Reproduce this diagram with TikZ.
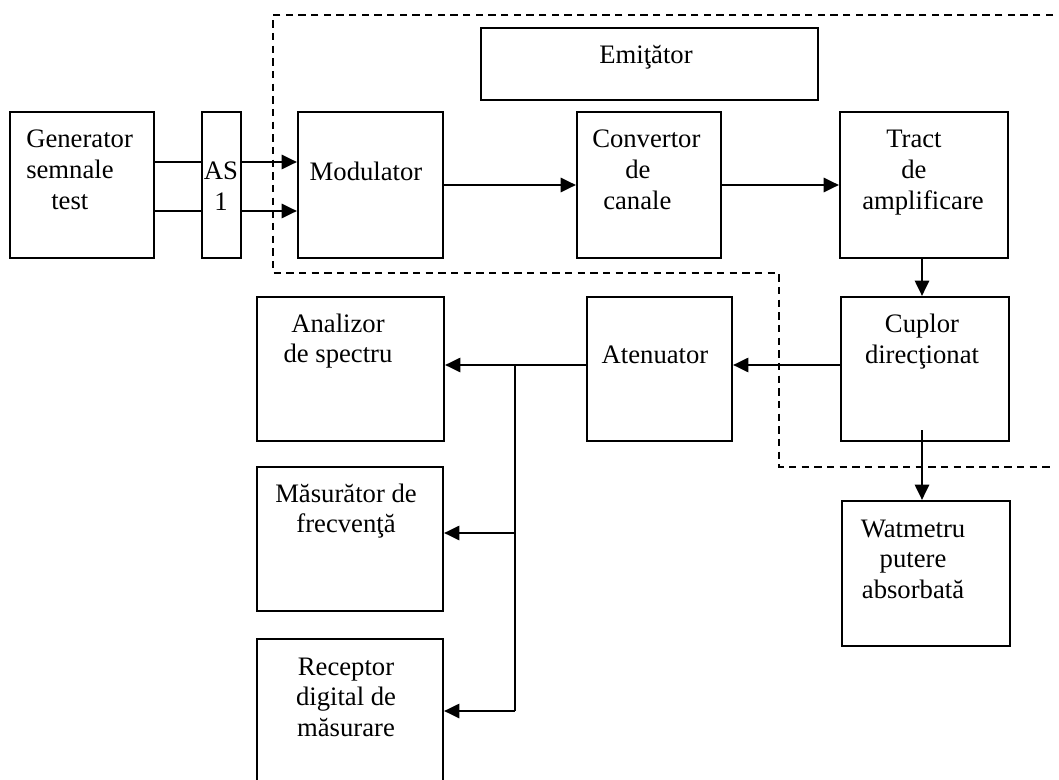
\documentclass[tikz,border=0pt]{standalone}
\usepackage{fontspec}
\setmainfont{Liberation Serif}
\usetikzlibrary{arrows.meta,fit,calc}
\newcommand{\mlc}[1]{\begin{tabular}[t]{@{}c@{}}#1\end{tabular}}
\newcommand{\mll}[1]{\begin{tabular}[t]{@{}l@{}}#1\end{tabular}}
\tikzset{
  box/.style={draw, line width=1.5pt, inner sep=0pt, fit={#1}},
  txt/.style={inner sep=0pt, anchor=base, font={\fontsize{20}{23}\selectfont}},
  conn/.style={line width=2.1pt},
  arr/.style={line width=2.1pt, -{Triangle[length=11.5pt,width=10.5pt]}},
  thinline/.style={line width=1.5pt},
  frame/.style={line width=1.5pt, dash pattern=on 5.5pt off 4pt}
}
\begin{document}
\begin{tikzpicture}[x=0.75pt,y=-0.75pt]
\useasboundingbox (0,0) rectangle (1059,780);
% boxes
\node[box={(10,112) (154,258)}] (gen) {};
\node[box={(202,112) (241,258)}] (as) {};
\node[box={(298,112) (443,258)}] (mod) {};
\node[box={(577,112) (721,258)}] (conv) {};
\node[box={(840,112) (1008,258)}] (tract) {};
\node[box={(481,28) (818,100)}] (emit) {};
\node[box={(841,297) (1009,441)}] (cupl) {};
\node[box={(587,297) (732,441)}] (aten) {};
\node[box={(257,297) (444,441)}] (anal) {};
\node[box={(257,467) (443,611)}] (mas) {};
\node[box={(842,501) (1010,646)}] (wat) {};
\begin{scope}
\clip (0,0) rectangle (1059,780);
\node[box={(257,639) (443,800)}] (rec) {};
\end{scope}
% texts
\node[txt] (emitt) at (646,64) {Emiţător};
\node[txt, anchor=base west] (gent) at (26,148) {\mll{Generator\\semnale\\\hspace{18.75pt}test}};
\node[txt] (ast) at (221,180) {\mlc{AS\\1}};
\node[txt] (modt) at (366,181) {Modulator};
\node[txt, anchor=base west] (convt) at (592,148) {\mll{Convertor\\\hspace{24.75pt}de\\\hspace{8.25pt}canale}};
\node[txt, anchor=base west] (tractt) at (862,148) {\mll{\hspace{18pt}Tract\\\hspace{29.25pt}de\\amplificare}};
\node[txt] (cuplt) at (922,333) {\mlc{Cuplor\\direcţionat}};
\node[txt] (atent) at (655,363) {Atenuator};
\node[txt] (analt) at (338,332) {\mlc{Analizor\\de spectru}};
\node[txt] (mast) at (346,502) {\mlc{Măsurător de\\frecvenţă}};
\node[txt] (rect) at (346,675) {\mlc{Receptor\\digital de\\măsurare}};
\node[txt] (watt) at (913,537) {\mlc{Watmetru\\putere\\absorbată}};
% dashed emitter boundary
\draw[frame] (1053,15) -- (273,15) -- (273,273) -- (779,273) -- (779,467) -- (1053,467);
% helper coordinates
\coordinate (r1) at (0,162);
\coordinate (r2) at (0,211);
\coordinate (r3) at (0,365);
\coordinate (j1) at (515,365);
\coordinate (r4) at (0,533);
\coordinate (r5) at (0,711);
\coordinate (cw) at (922,430);
% connectors
\draw[thinline] (gen.east |- r1) -- (as.west |- r1);
\draw[thinline] (gen.east |- r2) -- (as.west |- r2);
\draw[arr] (as.east |- r1) -- (mod.west |- r1);
\draw[arr] (as.east |- r2) -- (mod.west |- r2);
\draw[arr] (mod.east) -- (conv.west);
\draw[arr] (conv.east) -- (tract.west);
\draw[arr] (tract.south -| cw) -- (cupl.north -| cw);
\draw[arr] (cupl.west |- r3) -- (aten.east |- r3);
\draw[arr] (aten.west |- r3) -- (anal.east |- r3);
\draw[conn] (j1) -- (j1 |- r5);
\draw[arr] (j1 |- r4) -- (mas.east |- r4);
\draw[arr] (j1 |- r5) -- (rec.east |- r5);
\draw[arr] (cw) -- (cw |- wat.north);
\end{tikzpicture}
\end{document}
